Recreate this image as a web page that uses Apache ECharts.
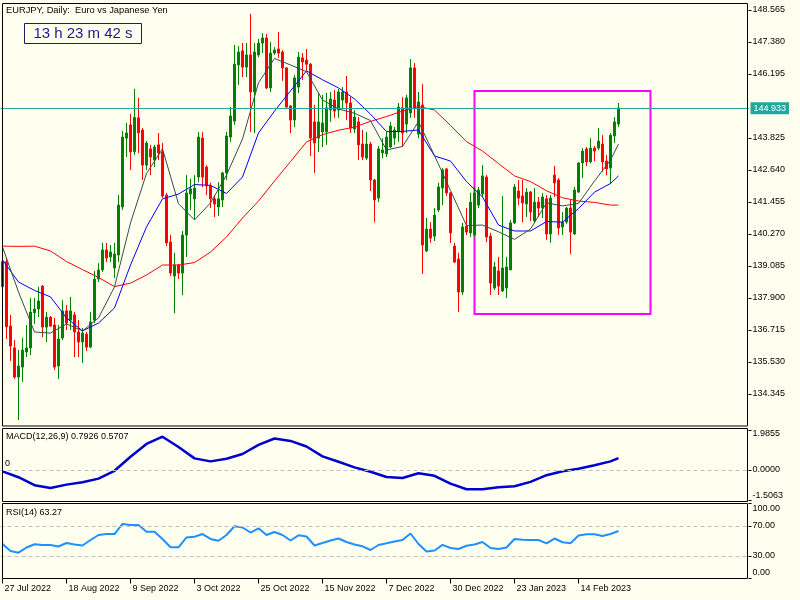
<!DOCTYPE html>
<html><head><meta charset="utf-8">
<script src="https://cdn.jsdelivr.net/npm/echarts@6/dist/echarts.min.js"></script>
<style>html,body{margin:0;padding:0;background:#FFFFF0;}#c{width:800px;height:600px;}</style>
</head><body><div id="c"></div>
<script>
// ---------- data ----------
const tickLabels = ['27 Jul 2022','18 Aug 2022','9 Sep 2022','3 Oct 2022','25 Oct 2022','15 Nov 2022','7 Dec 2022','30 Dec 2022','23 Jan 2023','14 Feb 2023'];
const barsPerTick = 16;
const totalSlots = 187;

const opens = [138.32,139.24,136.86,136.05,134.97,135.34,135.90,136.05,137.35,137.49,
138.34,136.82,137.19,136.90,135.38,136.42,137.42,137.08,137.27,136.64,
136.27,136.56,136.08,137.08,138.60,138.94,139.68,139.42,139.01,139.49,
141.27,143.82,144.31,143.32,144.57,144.12,142.82,143.42,143.01,143.57,
143.31,141.71,139.97,138.71,139.12,138.82,140.23,141.75,141.57,142.38,
143.82,142.75,142.05,141.57,141.27,141.53,142.53,143.86,144.45,146.53,
147.05,146.45,146.90,145.53,146.90,147.34,147.53,145.68,146.97,147.12,
147.01,146.42,145.01,144.49,145.71,146.79,146.71,146.56,144.42,143.82,
144.05,144.05,144.86,145.23,144.86,145.23,145.53,145.12,144.16,144.42,
143.60,143.08,143.60,142.27,141.60,143.27,143.23,143.49,143.82,144.05,
144.94,144.34,144.75,146.42,143.97,145.05,139.64,140.45,140.19,141.16,
141.97,142.68,141.79,139.82,139.34,138.12,140.56,140.31,140.23,141.34,
141.75,142.38,140.19,138.27,138.90,138.16,138.27,138.94,140.68,141.86,
141.68,141.38,141.82,140.75,141.45,141.23,141.57,140.27,142.45,142.27,
140.53,140.71,141.23,140.27,141.82,142.90,143.42,142.94,143.45,143.45,
143.60,142.97,142.71,143.90,144.34];
const highs = [139.38,139.38,137.27,136.34,135.97,136.42,136.90,137.90,137.90,138.31,
138.38,137.38,137.23,137.16,136.90,137.82,137.64,137.94,137.38,137.08,
136.79,136.64,137.38,138.90,139.19,139.94,139.94,139.86,139.94,141.71,
144.08,144.38,144.71,145.64,145.31,144.19,143.71,143.57,143.57,144.01,
143.64,141.79,140.23,139.57,139.16,140.38,142.45,142.31,142.45,144.05,
144.05,142.82,142.16,141.71,142.19,142.57,144.05,144.97,147.27,147.23,
147.34,147.34,148.42,147.34,147.49,147.71,147.68,147.38,147.19,147.75,
147.08,146.45,145.05,146.16,147.01,146.97,147.12,146.60,145.05,145.49,
145.42,145.49,145.53,145.60,145.64,145.71,146.12,145.34,144.86,144.60,
144.12,144.05,143.68,142.31,143.53,143.82,144.05,144.42,144.23,145.12,
145.34,145.42,146.75,146.60,145.53,145.82,140.86,140.71,141.23,142.16,
142.71,142.71,141.82,139.94,139.57,140.68,141.23,141.79,142.01,142.01,
142.82,142.45,140.31,139.23,139.42,141.68,139.42,140.79,142.12,142.27,
142.27,141.97,141.86,141.97,141.64,141.79,141.71,141.71,142.79,142.34,
141.08,141.27,141.53,142.01,142.93,143.45,143.49,143.82,143.53,144.19,
143.93,143.19,144.01,144.60,145.12];
const lows = [138.19,136.38,135.57,134.90,133.38,134.79,135.71,135.79,136.94,137.19,
136.45,136.27,136.82,135.23,134.90,136.34,136.71,136.71,135.71,135.71,
135.49,135.94,136.05,136.97,138.49,138.86,139.23,139.23,138.64,139.23,
141.16,143.12,142.64,143.19,143.27,142.27,142.64,142.45,142.75,143.01,
141.60,139.82,138.71,137.34,138.60,138.01,139.42,141.16,140.82,142.19,
142.01,141.71,141.23,140.90,140.94,141.27,142.27,143.68,144.31,145.79,
146.08,146.08,144.05,144.01,146.82,146.97,145.64,145.53,146.90,146.79,
145.94,144.94,144.01,144.23,145.49,145.97,146.31,143.16,142.53,143.31,
143.49,143.57,144.42,144.57,144.57,144.94,144.49,144.01,144.01,143.01,
143.01,143.01,141.86,140.71,141.45,143.08,143.12,143.45,143.57,143.68,
143.49,144.01,144.57,144.57,143.82,138.79,139.60,139.94,140.01,141.08,
141.34,141.68,139.94,139.19,137.38,138.01,140.23,140.16,140.16,141.23,
141.64,139.97,138.01,138.19,138.01,138.12,137.90,138.94,140.64,141.34,
140.71,140.90,140.75,140.68,140.90,140.86,140.05,139.94,141.64,140.23,
140.23,140.64,139.53,140.23,141.79,142.34,142.79,142.90,142.97,143.38,
142.57,142.45,142.12,143.64,144.23];
const closes = [139.24,136.83,136.12,134.97,135.38,135.97,136.05,137.38,137.49,137.79,
136.82,137.19,136.86,135.34,136.38,137.42,136.97,137.42,136.64,136.27,
136.60,136.08,137.01,138.60,138.94,139.68,139.38,139.60,139.53,141.34,
143.86,144.01,143.31,144.58,144.01,142.82,143.64,143.12,143.49,143.27,
141.68,139.94,138.82,139.12,138.82,140.23,141.79,141.94,141.97,143.86,
142.38,142.05,141.57,141.38,141.57,142.53,143.90,144.64,146.56,147.01,
146.45,146.90,145.53,147.01,147.34,147.53,145.68,146.97,147.08,146.97,
146.42,144.97,144.49,146.05,146.82,146.64,146.56,143.82,143.64,144.42,
144.38,144.94,145.27,144.82,145.53,145.53,145.12,144.19,144.60,143.57,
143.12,143.60,142.27,141.53,143.42,143.38,143.86,144.27,144.12,144.97,
144.01,145.31,146.42,144.90,145.16,139.86,140.45,140.12,140.97,142.01,
142.64,141.79,140.31,139.23,138.12,140.53,140.34,141.45,141.79,141.90,
142.42,140.16,138.45,139.05,138.34,139.01,139.05,140.68,142.01,141.60,
141.42,141.82,141.08,141.45,141.23,141.64,140.27,141.60,142.16,140.49,
140.71,141.23,140.34,141.90,142.90,143.34,142.94,143.45,143.34,143.71,
142.94,142.68,143.93,144.42,144.933];

// moving averages / MACD read every 4 bars (bar index list)
const maBars = [0,4,8,12,16,20,24,28,32,36,40,44,48,52,56,60,64,68,72,76,80,84,88,92,96,100,104,108,112,116,120,124,128,132,136,140,144,148,152,154];
const maFast = [139.79,138.12,136.64,136.60,136.94,136.68,137.16,138.31,140.68,142.51,143.42,141.39,140.79,141.42,142.45,143.79,145.87,146.77,146.53,146.28,145.23,144.90,144.74,144.47,143.38,143.51,144.43,143.17,141.88,140.58,140.60,140.35,140.07,140.45,141.42,141.31,141.40,142.23,143.01,143.60];
const maMid = [139.31,138.49,138.18,137.94,137.16,136.68,136.97,137.53,139.12,140.53,141.57,141.75,142.10,142.07,141.77,142.38,144.01,144.82,145.57,146.31,145.98,145.68,145.27,144.71,144.06,144.07,144.12,143.16,142.97,142.21,141.64,140.60,140.38,140.38,140.73,140.71,141.21,141.82,142.14,142.42];
const maSlow = [139.82,139.81,139.82,139.64,139.25,138.95,138.66,138.32,138.45,138.75,139.12,139.12,139.21,139.60,140.16,140.86,141.49,142.23,142.95,143.68,143.95,144.11,144.23,144.44,144.62,144.82,144.99,144.86,144.29,143.69,143.34,142.88,142.42,142.21,141.87,141.61,141.49,141.44,141.34,141.34];
const macdValues = [-0.08,-0.37,-0.77,-0.91,-0.74,-0.62,-0.44,-0.05,0.65,1.29,1.65,1.14,0.57,0.42,0.55,0.79,1.24,1.56,1.44,1.16,0.67,0.40,0.12,-0.10,-0.36,-0.41,-0.17,-0.30,-0.69,-0.97,-0.97,-0.87,-0.82,-0.60,-0.27,-0.07,0.05,0.23,0.42,0.58];
// RSI read every 2 bars starting at bar 0
const rsiStep = 2;
const rsiValues = [46,36.7,34.4,41.3,45.6,44.7,44.7,42.7,47.3,45.3,
44,51.3,58,59.3,59.3,72.7,71.3,71.3,62.4,62.4,
52.7,41.6,41.6,54.7,55.7,59.3,52.7,50.4,58,69.6,
68,61.3,66.9,58,62,58,50.7,57.6,56,44,
47.3,50.7,53.3,48.7,45.3,42.9,38,44.7,46.9,49.3,
51.3,60,46,36,37.3,44.9,40.7,39.3,43.7,45.3,
48.7,40.7,39.3,41.3,52.7,51.7,51.3,51.3,46.9,53.3,
48.3,47.1,57.2,58.9,58.9,56.7,59.3,63.27];

const priceTicks = [134.345,135.530,136.715,137.900,139.085,140.270,141.455,142.640,143.825,145.010,146.195,147.380,148.565];
const priceRange = [133.158, 148.824];
const lastPrice = 144.933;
const macdTicks = [-1.5063, 0, 1.9855];
const macdText = 'MACD(12,26,9) 0.7926 0.5707';
const rsiTicks = [0, 30, 70, 100];
const rsiLevels = [30, 70];
const rsiText = 'RSI(14) 63.27';
const titleText = 'EURJPY, Daily:  Euro vs Japanese Yen';
const timerText = '13 h 23 m 42 s';
const boxBars = [118, 162];
const boxPrices = [145.565, 137.305];

// ---------- chart ----------
const FONT = 'Liberation Sans';
const categories = Array.from({length: totalSlots}, (_, i) => String(i));
const showTick = (index) => index % barsPerTick === 0 && index / barsPerTick < tickLabels.length;
const candleData = opens.map((o, i) => [o, closes[i], lows[i], highs[i]]);
const zip = (bars, vals) => bars.map((b, k) => [b, vals[k]]);
const rsiData = rsiValues.map((v, k) => [k * rsiStep, v]);
const shownPriceTicks = priceTicks.filter(v => Math.abs(v - 145.010) > 0.001);

const hiddenX = (g) => ({type:'category', gridIndex:g, data:categories, boundaryGap:true,
  axisLine:{show:false}, axisTick:{show:false}, axisLabel:{show:false}, splitLine:{show:false}});

const dashed = (vals) => ({silent:true, symbol:['none','none'], animation:false,
  lineStyle:{color:'#C0C0C0', type:[4,3], width:1}, label:{show:false},
  data: vals.map(v => ({yAxis:v}))});

const option = {
  animation:false,
  backgroundColor:'#FFFFF0',
  textStyle:{fontFamily:FONT},
  grid:[
    {left:0.5, top:3, width:748, height:423, outerBoundsMode:'none'},
    {left:0.5, top:430, width:748, height:70, outerBoundsMode:'none'},
    {left:0.5, top:503.5, width:748, height:75, outerBoundsMode:'none'}
  ],
  xAxis:[hiddenX(0), hiddenX(1), Object.assign(hiddenX(2), {
    axisTick:{show:true, interval:(i)=>showTick(i), alignWithLabel:true, length:5, lineStyle:{color:'#000'}},
    axisLabel:{show:true, interval:(i)=>showTick(i), align:'left', padding:[0,0,0,2],
      formatter:(v, i)=>tickLabels[i / barsPerTick] || '', color:'#000', fontSize:9, fontFamily:FONT, margin:6}
  })],
  yAxis:[
    {type:'value', gridIndex:0, position:'right', min:priceRange[0], max:priceRange[1],
      axisLine:{show:false}, splitLine:{show:false},
      axisTick:{show:true, length:3, customValues:shownPriceTicks, lineStyle:{color:'#000'}},
      axisLabel:{customValues:shownPriceTicks, formatter:v=>v.toFixed(3), color:'#000', fontSize:9, fontFamily:FONT, margin:4}},
    {type:'value', gridIndex:1, position:'right', min:macdTicks[0], max:macdTicks[2],
      axisLine:{show:false}, splitLine:{show:false},
      axisTick:{show:true, length:3, customValues:macdTicks, lineStyle:{color:'#000'}},
      axisLabel:{customValues:macdTicks, color:'#000', fontSize:9, fontFamily:FONT, margin:4,
        formatter:v=>{const s=v.toFixed(4); if(v===macdTicks[2]) return '{t|'+s+'}'; if(v===macdTicks[0]) return '{b|'+s+'}'; return s;},
        rich:{t:{padding:[7,0,0,0],fontSize:9,color:'#000',fontFamily:FONT}, b:{padding:[0,0,9,0],fontSize:9,color:'#000',fontFamily:FONT}}}},
    {type:'value', gridIndex:2, position:'right', min:rsiTicks[0], max:rsiTicks[3],
      axisLine:{show:false}, splitLine:{show:false},
      axisTick:{show:true, length:3, customValues:rsiTicks, lineStyle:{color:'#000'}},
      axisLabel:{customValues:rsiTicks, color:'#000', fontSize:9, fontFamily:FONT, margin:4,
        formatter:v=>{const s=v.toFixed(2); if(v===rsiTicks[3]) return '{t|'+s+'}'; if(v===rsiTicks[0]) return '{b|'+s+'}'; return s;},
        rich:{t:{padding:[11,0,0,0],fontSize:9,color:'#000',fontFamily:FONT}, b:{padding:[0,0,11,0],fontSize:9,color:'#000',fontFamily:FONT}}}}
  ],
  series:[
    {type:'candlestick', xAxisIndex:0, yAxisIndex:0, data:candleData, barWidth:2, z:2,
      itemStyle:{color:'#008000', color0:'#FF0000', borderColor:'#008000', borderColor0:'#FF0000', borderWidth:1},
      markLine:{silent:true, symbol:['none','none'], animation:false,
        lineStyle:{color:'#20A89E', type:'solid', width:1},
        label:{show:true, position:'end', formatter:lastPrice.toFixed(3), color:'#FFFFFF', backgroundColor:'#20A89E',
          padding:[2,3,1,3], fontSize:9, fontFamily:FONT, distance:2},
        data:[{yAxis:lastPrice}]},
      markArea:{silent:true, animation:false,
        itemStyle:{color:'rgba(0,0,0,0)', borderColor:'#FF00FF', borderWidth:2},
        data:[[{xAxis:boxBars[0], yAxis:boxPrices[0]},{xAxis:boxBars[1], yAxis:boxPrices[1]}]]}
    },
    {type:'line', xAxisIndex:0, yAxisIndex:0, data:zip(maBars, maSlow), showSymbol:false, z:3,
      lineStyle:{color:'#FF0000', width:1}},
    {type:'line', xAxisIndex:0, yAxisIndex:0, data:zip(maBars, maMid), showSymbol:false, z:3,
      lineStyle:{color:'#0000FF', width:1}},
    {type:'line', xAxisIndex:0, yAxisIndex:0, data:zip(maBars, maFast), showSymbol:false, z:3,
      lineStyle:{color:'#2F4F4F', width:1}},
    {type:'line', xAxisIndex:1, yAxisIndex:1, data:zip(maBars, macdValues), showSymbol:false, z:3,
      lineStyle:{color:'#0000CD', width:2.5}, markLine:dashed([0])},
    {type:'line', xAxisIndex:2, yAxisIndex:2, data:rsiData, showSymbol:false, z:3,
      lineStyle:{color:'#1E90FF', width:2}, markLine:dashed(rsiLevels)}
  ],
  graphic:[
    {type:'rect', silent:true, z:100, shape:{x:2.5,y:3.5,width:745,height:422.5}, style:{fill:'rgba(0,0,0,0)', stroke:'#000', lineWidth:1}},
    {type:'rect', silent:true, z:100, shape:{x:2.5,y:428.5,width:745,height:73}, style:{fill:'rgba(0,0,0,0)', stroke:'#000', lineWidth:1}},
    {type:'rect', silent:true, z:100, shape:{x:2.5,y:503.5,width:745,height:75}, style:{fill:'rgba(0,0,0,0)', stroke:'#000', lineWidth:1}},
    {type:'text', silent:true, z:101, x:6, y:10, style:{text:titleText, fill:'#000', fontSize:9.3, fontFamily:FONT, verticalAlign:'middle', align:'left'}},
    {type:'rect', silent:true, z:101, shape:{x:24.5,y:23.5,width:117,height:20}, style:{fill:'#FFFFF0', stroke:'#1C1C6C', lineWidth:1}},
    {type:'text', silent:true, z:102, x:83, y:34, style:{text:timerText, fill:'#1A1A8C', fontSize:15, fontFamily:FONT, verticalAlign:'middle', align:'center'}},
    {type:'text', silent:true, z:101, x:6, y:437, style:{text:macdText, fill:'#000', fontSize:9, fontFamily:FONT, verticalAlign:'middle', align:'left'}},
    {type:'text', silent:true, z:101, x:5, y:464, style:{text:'0', fill:'#000', fontSize:9, fontFamily:FONT, verticalAlign:'middle', align:'left'}},
    {type:'text', silent:true, z:101, x:6, y:513, style:{text:rsiText, fill:'#000', fontSize:9, fontFamily:FONT, verticalAlign:'middle', align:'left'}}
  ]
};
const chart = echarts.init(document.getElementById('c'), null, {renderer:'canvas'});
chart.setOption(option);
</script></body></html>
